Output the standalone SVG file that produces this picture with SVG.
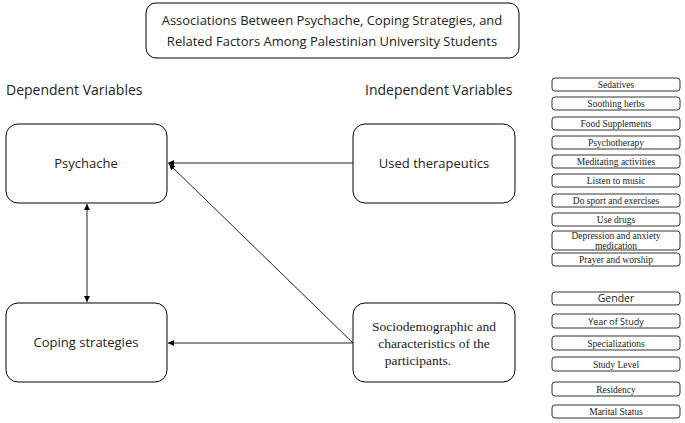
<svg xmlns="http://www.w3.org/2000/svg" width="685" height="423" viewBox="0 0 685 423">
<style>
.b{fill:#fff;stroke:#000;stroke-width:1}
.s{fill:#fff;stroke:#333;stroke-width:1}
.t{font-family:"Open Sans","Liberation Sans",sans-serif;font-size:13px;fill:#222;text-anchor:middle}
.h{font-family:"Open Sans","Liberation Sans",sans-serif;font-size:14px;fill:#222}
.m{font-family:"Liberation Serif",serif;font-size:13.5px;fill:#222;text-anchor:middle}
.r{font-family:"Liberation Serif",serif;font-size:9.5px;fill:#222;text-anchor:middle}
.g{font-family:"Open Sans","Liberation Sans",sans-serif;font-size:10.5px;fill:#222;text-anchor:middle}
.c{stroke:#222;stroke-width:1;fill:none}
</style>
<defs><marker id="a" viewBox="0 0 10 10" refX="10" refY="5" markerWidth="6" markerHeight="6" orient="auto-start-reverse"><path d="M0,0L10,5L0,10z" fill="#000"/></marker></defs>
<rect width="685" height="423" fill="#fff"/>
<g id="title"><rect class="b" x="146" y="3" width="373" height="55" rx="10"/><text class="t" x="332" y="25">Associations Between Psychache, Coping Strategies, and</text><text class="t" x="332" y="46">Related Factors Among Palestinian University Students</text></g>
<text class="h" x="6" y="95">Dependent Variables</text>
<text class="h" x="365" y="95">Independent Variables</text>
<g id="psychache"><rect class="b" x="6" y="124" width="161" height="79" rx="12"/><text class="t" x="86" y="168">Psychache</text></g>
<g id="therapeutics"><rect class="b" x="353" y="124" width="162" height="79" rx="12"/><text class="t" x="434" y="168">Used therapeutics</text></g>
<g id="coping"><rect class="b" x="6" y="303" width="161" height="79" rx="12"/><text class="t" x="86" y="347">Coping strategies</text></g>
<g id="socio"><rect class="b" x="353" y="303" width="162" height="79" rx="12"/><text class="m" x="434" y="331">Sociodemographic and</text><text class="m" x="434" y="348">characteristics of the</text><text class="m" x="418" y="365">participants.</text></g>
<g id="connectors">
<line class="c" x1="353" y1="163" x2="168" y2="163" marker-end="url(#a)"/>
<line class="c" x1="353" y1="343" x2="169" y2="164" marker-end="url(#a)"/>
<line class="c" x1="353" y1="343" x2="168" y2="343" marker-end="url(#a)"/>
<line class="c" x1="87" y1="204" x2="87" y2="302" marker-start="url(#a)" marker-end="url(#a)"/>
</g>
<g id="therapies">
<g id="t1"><rect class="s" x="552" y="78" width="128" height="13" rx="3"/><text class="r" x="616" y="88">Sedatives</text></g>
<g id="t2"><rect class="s" x="552" y="97" width="128" height="13" rx="3"/><text class="r" x="616" y="107">Soothing herbs</text></g>
<g id="t3"><rect class="s" x="552" y="117" width="128" height="13" rx="3"/><text class="r" x="616" y="127">Food Supplements</text></g>
<g id="t4"><rect class="s" x="552" y="136" width="128" height="13" rx="3"/><text class="r" x="616" y="146">Psychotherapy</text></g>
<g id="t5"><rect class="s" x="552" y="155" width="128" height="13" rx="3"/><text class="r" x="616" y="165">Meditating activities</text></g>
<g id="t6"><rect class="s" x="552" y="174" width="128" height="13" rx="3"/><text class="r" x="616" y="184">Listen to music</text></g>
<g id="t7"><rect class="s" x="552" y="194" width="128" height="13" rx="3"/><text class="r" x="616" y="204">Do sport and exercises</text></g>
<g id="t8"><rect class="s" x="552" y="213" width="128" height="13" rx="3"/><text class="r" x="616" y="223">Use drugs</text></g>
<g id="t9"><rect class="s" x="552" y="231" width="128" height="19" rx="3"/><text class="r" x="616" y="239">Depression and anxiety</text><text class="r" x="616" y="249">medication</text></g>
<g id="t10"><rect class="s" x="552" y="253" width="128" height="13" rx="3"/><text class="r" x="616" y="263">Prayer and worship</text></g>
</g>
<g id="socio-items">
<g id="s1"><rect class="s" x="552" y="292" width="128" height="13" rx="3"/><text class="g" x="616" y="302">Gender</text></g>
<g id="s2"><rect class="s" x="552" y="314" width="128" height="14" rx="3"/><text class="g" x="616" y="325" style="font-size:9px">Year of Study</text></g>
<g id="s3"><rect class="s" x="552" y="336" width="128" height="14" rx="3"/><text class="r" x="616" y="347">Specializations</text></g>
<g id="s4"><rect class="s" x="552" y="357" width="128" height="14" rx="3"/><text class="r" x="616" y="368">Study Level</text></g>
<g id="s5"><rect class="s" x="552" y="382" width="128" height="14" rx="3"/><text class="r" x="616" y="393">Residency</text></g>
<g id="s6"><rect class="s" x="552" y="405" width="128" height="13" rx="3"/><text class="r" x="616" y="415">Marital Status</text></g>
</g>
</svg>
